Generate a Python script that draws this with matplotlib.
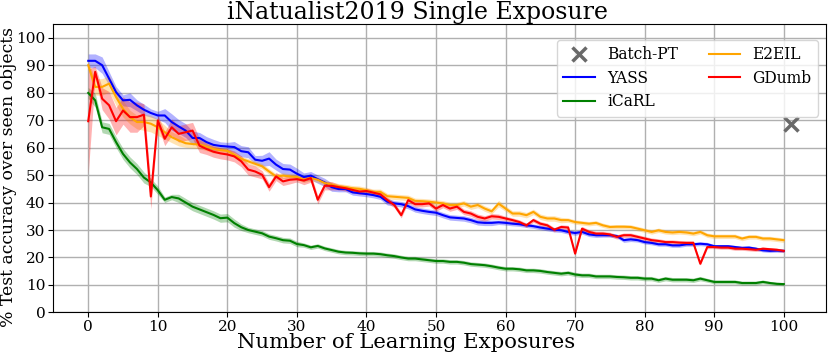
import matplotlib
matplotlib.use("Agg")
import matplotlib.pyplot as plt
import numpy as np

plt.rcParams['font.family'] = ['DejaVu Serif']

exposures = np.arange(101)

yass = [91.6, 91.6, 90.0, 85.1, 80.2, 77.2, 77.4, 75.4, 73.8, 72.6,
        71.7, 71.7, 69.3, 67.7, 66.2, 63.5, 63.5, 62.0, 61.0, 60.6,
        60.4, 60.2, 58.7, 58.3, 55.6, 55.2, 56.0, 53.8, 52.2, 52.0,
        50.5, 49.3, 49.8, 48.5, 47.3, 45.6, 44.9, 44.9, 43.7, 43.4,
        43.1, 42.7, 42.1, 40.3, 39.7, 39.4, 38.7, 37.5, 37.0, 36.6,
        36.3, 35.4, 34.6, 34.4, 34.2, 33.6, 32.8, 32.6, 32.6, 32.8,
        32.6, 32.3, 32.1, 31.7, 31.4, 30.9, 30.5, 30.1, 29.9, 29.3,
        28.9, 29.3, 28.4, 28.1, 28.1, 28.1, 27.8, 26.3, 26.6, 26.3,
        25.6, 25.3, 24.8, 24.8, 24.4, 24.4, 24.8, 24.8, 25.0, 24.8,
        24.1, 24.1, 24.1, 23.8, 23.5, 23.6, 23.2, 22.6, 22.4, 22.5,
        22.4]
yass_std = [2.5, 2.5, 3.0, 2.5, 2.0, 2.0, 2.5, 2.0, 2.0, 1.5,
            1.5, 2.5, 3.0, 2.5, 2.5, 2.5, 2.0, 2.0, 2.0, 1.5,
            1.5, 2.0, 2.0, 2.0, 1.5, 2.0, 2.5, 2.0, 2.0, 2.0,
            2.0, 1.5, 1.5, 1.5, 1.5, 1.5, 1.0, 1.0, 1.0, 1.0,
            1.0, 1.0, 1.0, 1.2, 1.0, 1.0, 1.0, 1.0, 1.0, 1.0,
            1.0, 1.0, 1.0, 1.0, 1.0, 1.0, 1.0, 1.0, 1.0, 0.8,
            0.8, 0.8, 0.8, 0.8, 0.8, 0.8, 0.8, 0.8, 0.8, 0.8,
            0.8, 0.8, 0.8, 0.8, 0.7, 0.7, 0.7, 0.8, 0.8, 0.7,
            0.7, 0.7, 0.7, 0.7, 0.7, 0.7, 0.7, 0.7, 0.7, 0.7,
            0.6, 0.6, 0.6, 0.6, 0.6, 0.6, 0.6, 0.6, 0.6, 0.6,
            0.6]

icarl = [79.9, 77.2, 67.4, 66.8, 62.0, 57.7, 54.6, 52.2, 49.1, 47.3,
         44.5, 41.0, 42.0, 41.5, 40.0, 38.5, 37.5, 36.5, 35.5, 34.3,
         34.5, 32.5, 31.0, 30.0, 29.4, 28.8, 27.6, 27.0, 26.3, 26.1,
         24.9, 24.5, 23.7, 24.2, 23.3, 22.7, 22.1, 21.8, 21.7, 21.5,
         21.4, 21.4, 21.2, 20.8, 20.5, 20.0, 19.6, 19.6, 19.3, 19.0,
         18.7, 18.7, 18.4, 18.4, 18.1, 17.6, 17.4, 17.2, 16.8, 16.3,
         15.9, 15.9, 15.7, 15.3, 15.3, 15.1, 14.7, 14.4, 14.1, 14.4,
         13.8, 13.5, 13.5, 13.1, 13.1, 13.1, 12.9, 12.8, 12.6, 12.6,
         12.3, 12.3, 11.7, 12.3, 11.9, 11.9, 11.9, 11.7, 12.3, 11.7,
         11.1, 11.1, 11.1, 11.1, 10.7, 10.7, 10.7, 11.1, 10.7, 10.4,
         10.3]
icarl_std = [2.0, 2.5, 2.0, 2.0, 2.0, 2.0, 2.0, 2.0, 2.0, 1.5,
             1.5, 1.0, 1.0, 1.5, 1.5, 1.5, 1.5, 1.5, 1.5, 1.5,
             1.5, 1.5, 1.2, 1.0, 1.0, 1.0, 1.0, 1.0, 1.0, 1.0,
             1.0, 0.8, 0.8, 0.8, 0.8, 0.8, 0.8, 0.8, 0.8, 0.8,
             0.8, 0.8, 0.8, 0.8, 0.8, 0.8, 0.8, 0.8, 0.8, 0.8,
             0.8, 0.8, 0.8, 0.8, 0.8, 0.8, 0.8, 0.8, 0.8, 0.8,
             0.8, 0.8, 0.8, 0.8, 0.8, 0.8, 0.8, 0.8, 0.8, 0.8,
             0.8, 0.8, 0.8, 0.8, 0.8, 0.8, 0.8, 0.8, 0.8, 0.8,
             0.8, 0.8, 0.8, 0.8, 0.8, 0.8, 0.8, 0.8, 0.8, 0.7,
             0.7, 0.7, 0.7, 0.7, 0.7, 0.7, 0.7, 0.7, 0.6, 0.6,
             0.6]

e2eil = [90.0, 82.1, 82.1, 83.3, 78.4, 74.1, 71.1, 69.3, 69.3, 68.7,
         67.4, 65.6, 63.8, 62.6, 61.6, 61.3, 61.1, 60.4, 59.5, 59.1,
         58.8, 57.4, 55.9, 55.0, 54.1, 53.2, 51.3, 49.5, 49.8, 49.5,
         49.3, 48.3, 48.9, 48.3, 47.1, 46.5, 45.9, 45.6, 45.2, 45.0,
         44.5, 43.9, 43.9, 42.3, 42.1, 41.9, 41.7, 40.6, 40.5, 40.3,
         40.0, 39.7, 39.1, 39.1, 39.7, 38.5, 39.1, 37.8, 36.8, 39.6,
         37.8, 36.0, 36.0, 35.4, 36.6, 34.8, 34.2, 34.2, 33.6, 33.6,
         32.9, 32.6, 32.3, 32.6, 31.7, 31.1, 31.2, 31.2, 31.1, 30.5,
         29.9, 29.3, 29.9, 29.3, 29.1, 29.3, 29.1, 28.7, 29.3, 28.1,
         27.7, 27.7, 27.7, 27.7, 26.9, 27.5, 27.5, 26.9, 26.9, 26.6,
         26.3]
e2eil_std = [1.5, 3.0, 3.0, 3.0, 3.0, 3.0, 2.5, 2.5, 3.0, 3.0,
             3.0, 2.5, 2.0, 2.0, 1.5, 1.5, 1.5, 1.5, 1.5, 1.0,
             1.0, 1.0, 1.0, 1.0, 1.0, 1.0, 1.0, 1.0, 1.0, 1.0,
             1.0, 1.0, 1.0, 1.0, 1.0, 1.0, 1.0, 1.0, 1.0, 1.0,
             1.0, 1.0, 1.0, 1.0, 1.0, 1.0, 1.0, 1.0, 1.0, 1.0,
             1.0, 1.0, 1.0, 1.0, 1.0, 1.0, 1.0, 1.0, 1.0, 1.2,
             1.0, 1.0, 1.0, 1.0, 1.0, 1.0, 1.0, 1.0, 1.0, 0.8,
             0.8, 0.8, 0.8, 0.8, 0.8, 0.8, 0.8, 0.8, 0.8, 0.8,
             0.8, 0.8, 0.8, 0.8, 0.8, 0.8, 0.8, 0.8, 0.8, 0.8,
             0.8, 0.8, 0.8, 0.8, 0.8, 0.8, 0.8, 0.8, 0.8, 0.8,
             0.8]

gdumb = [69.6, 87.6, 77.8, 75.4, 69.6, 73.5, 71.1, 71.1, 72.0, 42.2,
         69.9, 63.2, 67.4, 65.0, 65.6, 66.2, 60.7, 59.5, 58.5, 57.9,
         57.5, 56.8, 55.0, 52.0, 51.3, 50.1, 45.6, 49.5, 47.7, 48.3,
         48.5, 48.0, 48.9, 41.0, 46.1, 46.1, 45.6, 45.2, 44.6, 44.0,
         44.2, 43.6, 43.0, 40.9, 39.1, 35.4, 40.9, 39.4, 39.4, 39.7,
         37.8, 39.1, 37.8, 38.5, 36.6, 36.0, 34.8, 34.2, 35.0, 34.8,
         34.2, 33.6, 32.9, 31.7, 33.6, 32.3, 31.7, 30.1, 31.1, 30.9,
         21.4, 30.5, 29.3, 28.7, 28.7, 28.4, 27.5, 28.1, 28.1, 27.5,
         26.9, 26.3, 26.0, 25.6, 25.6, 25.4, 25.3, 25.3, 17.7, 23.8,
         23.8, 23.6, 23.6, 23.2, 23.2, 23.0, 22.8, 23.2, 23.0, 22.8,
         22.4]
gdumb_std = [19.0, 2.0, 4.0, 5.0, 5.0, 5.0, 5.5, 5.5, 4.0, 4.5,
             2.0, 2.5, 3.0, 3.0, 3.0, 3.0, 2.5, 2.0, 2.0, 2.0,
             2.0, 2.0, 2.0, 2.0, 2.0, 1.5, 1.5, 1.5, 1.5, 1.5,
             1.0, 1.5, 1.5, 1.5, 1.5, 1.5, 1.0, 1.0, 1.0, 1.0,
             1.0, 1.0, 1.0, 1.0, 1.0, 1.0, 1.0, 1.0, 1.0, 1.0,
             1.0, 1.0, 1.0, 1.0, 1.0, 1.0, 1.0, 1.0, 1.0, 1.0,
             0.8, 0.8, 0.8, 0.8, 0.8, 0.8, 0.8, 0.8, 0.8, 0.8,
             0.5, 0.8, 0.8, 0.8, 0.8, 0.8, 0.8, 0.8, 0.8, 0.8,
             0.8, 0.8, 0.8, 0.8, 0.8, 0.8, 0.8, 0.8, 0.5, 0.6,
             0.6, 0.6, 0.6, 0.6, 0.6, 0.6, 0.6, 0.6, 0.6, 0.6,
             0.6]

batch_pt_x = [101]
batch_pt_y = [68.7]

series = [("YASS", yass, yass_std, "blue"),
          ("iCaRL", icarl, icarl_std, "green"),
          ("E2EIL", e2eil, e2eil_std, "orange"),
          ("GDumb", gdumb, gdumb_std, "red")]

fig, ax = plt.subplots(figsize=(8.3, 3.53), dpi=100)
fig.subplots_adjust(left=0.064, right=0.995, bottom=0.115, top=0.932)

ax.grid(True, color='#b0b0b0', linewidth=1.0)
ax.set_axisbelow(True)

ax.plot(batch_pt_x, batch_pt_y, 'x', color='dimgray', markersize=10,
        markeredgewidth=2.5, label='Batch-PT')

for name, mean, std, color in series:
    mean = np.array(mean)
    std = np.array(std)
    ax.fill_between(exposures, mean - std, mean + std, color=color,
                    alpha=0.3, linewidth=0)
    ax.plot(exposures, mean, color=color, linewidth=1.5, label=name)

ax.set_ylim(0, 105)
ax.set_yticks(np.arange(0, 101, 10))
ax.set_xticks(np.arange(0, 101, 10))
ax.tick_params(labelsize=11, pad=2)

ax.set_title('iNatualist2019 Single Exposure', fontsize=17, pad=3, x=0.471)
ax.set_xlabel('Number of Learning Exposures', fontsize=15.3)
ax.xaxis.set_label_coords(0.457, -0.07)
ax.xaxis.label.set_va('top')
ax.set_ylabel('% Test accuracy over seen objects', fontsize=12.4)
ax.yaxis.set_label_coords(-0.058, 0.47)
ax.yaxis.label.set_va('center')

ax.legend(ncol=2, fontsize=11.2, loc='upper right', labelspacing=0.42,
          bbox_to_anchor=(0.9897, 0.9445), borderaxespad=0)

fig.savefig('out.png', dpi=100)
